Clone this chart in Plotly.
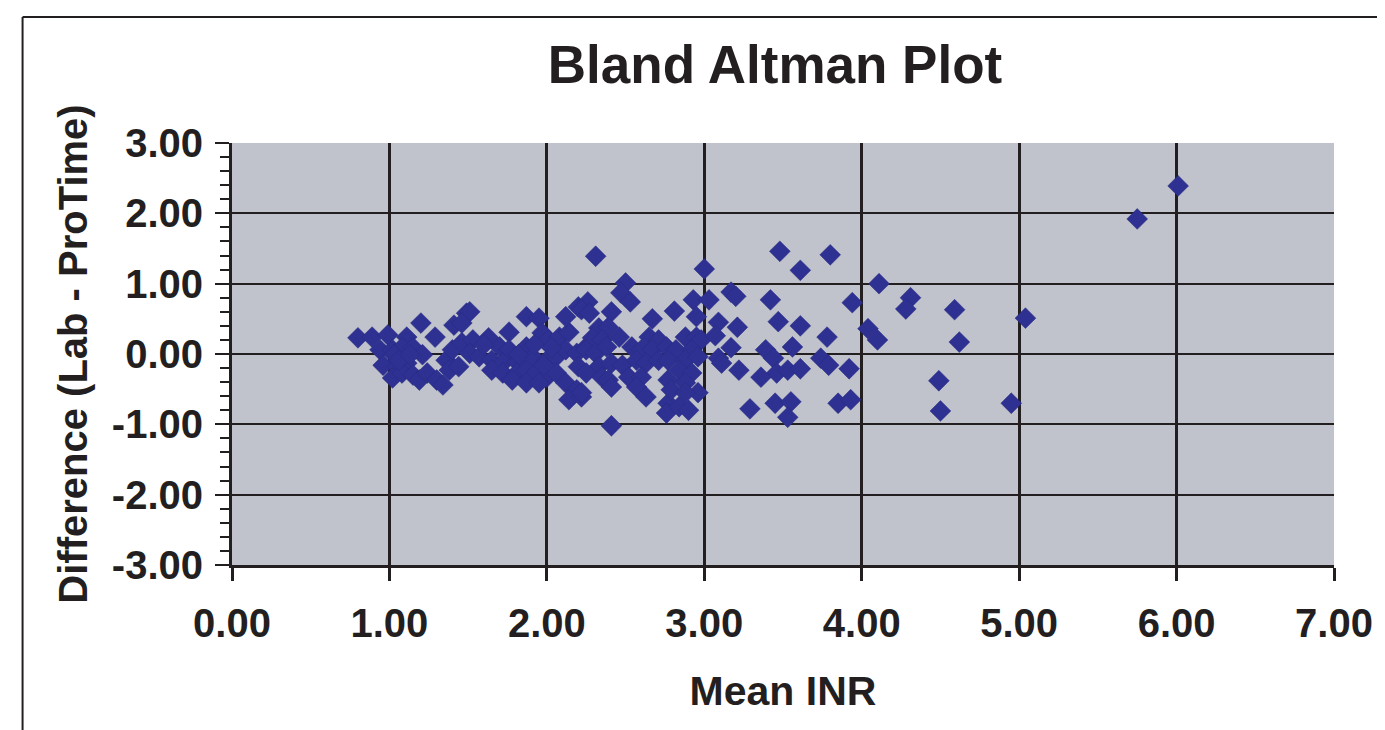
import plotly.graph_objects as go

# Mean INR (x) and Difference Lab - ProTime (y)
mean_inr = [
    0.80, 0.89, 0.99, 1.11, 1.20, 1.29, 1.41, 1.49, 0.94, 1.02, 1.08, 1.15, 1.21,
    0.96, 1.05, 1.11, 1.02, 1.08, 1.15, 1.19, 1.24, 1.30, 1.34, 1.36, 1.40, 1.46,
    1.38, 1.44, 1.03, 1.06, 1.13,
    1.51, 1.46, 1.87, 1.95, 1.97, 1.76, 1.63, 1.53, 1.70, 1.76, 1.87, 2.01, 2.08,
    2.14, 2.12, 2.20, 1.51, 1.57, 1.65, 1.72, 1.81, 1.91, 2.00, 2.06, 2.12, 2.19,
    2.25, 1.65, 1.72, 1.81, 1.87, 1.93, 2.00, 2.06, 1.78, 1.87, 1.95, 2.12, 2.19,
    2.14, 2.22, 1.60, 1.82, 1.92, 2.03, 1.98,
    2.31, 2.50, 2.47, 2.53, 2.26, 2.22, 2.41, 2.67, 2.81, 2.93, 2.95, 2.33, 2.39,
    2.29, 2.35, 2.46, 2.65, 2.71, 2.88, 2.95, 2.98, 2.25, 2.31, 2.38, 2.54, 2.60,
    2.67, 2.76, 2.82, 2.92, 2.33, 2.41, 2.48, 2.57, 2.63, 2.71, 2.77, 2.88, 2.96,
    2.20, 2.25, 2.35, 2.39, 2.52, 2.60, 2.84, 2.92, 2.77, 2.88, 2.41, 2.57, 2.63,
    2.22, 2.77, 2.76, 2.84, 2.90, 2.96, 2.79, 2.88, 2.41, 2.27,
    3.00, 3.17, 3.20, 3.42, 3.03, 3.09, 3.21, 3.47, 3.61, 3.07, 3.56, 3.17, 3.09,
    3.11, 3.22, 3.39, 3.44, 3.46, 3.36, 3.53, 3.61, 3.29, 3.45, 3.55, 3.53,
    3.80, 3.61, 3.48, 4.11, 4.31, 4.28, 3.94, 3.78, 4.04, 4.10, 3.74, 3.79, 3.92,
    3.85, 3.93, 4.49, 4.50, 4.59, 4.62, 5.04, 4.95, 5.75, 6.01,
]
difference = [
    0.23, 0.24, 0.27, 0.24, 0.44, 0.24, 0.41, 0.58, 0.06, 0.06, 0.09, 0.09, -0.01,
    -0.16, -0.18, -0.13, -0.34, -0.27, -0.30, -0.37, -0.27, -0.37, -0.44, -0.09, 0.06, 0.16,
    -0.23, -0.18, -0.01, -0.09, -0.01,
    0.60, 0.44, 0.53, 0.51, 0.30, 0.31, 0.23, 0.20, 0.10, 0.06, 0.10, 0.20, 0.24,
    0.31, 0.53, 0.67, 0.01, -0.04, -0.09, -0.13, -0.11, -0.04, -0.09, -0.04, 0.06, 0.01,
    0.10, -0.23, -0.27, -0.27, -0.23, -0.27, -0.33, -0.27, -0.37, -0.41, -0.41, -0.41, -0.51,
    -0.65, -0.61, 0.13, -0.01, 0.13, 0.09, -0.16,
    1.39, 1.01, 0.87, 0.74, 0.74, 0.63, 0.60, 0.50, 0.61, 0.77, 0.53, 0.37, 0.38,
    0.23, 0.20, 0.24, 0.24, 0.20, 0.24, 0.24, 0.20, 0.06, 0.01, 0.10, 0.10, 0.06,
    0.06, 0.10, 0.06, 0.06, -0.18, -0.13, -0.16, -0.09, -0.13, -0.09, -0.09, -0.09, -0.04,
    -0.18, -0.27, -0.33, -0.37, -0.33, -0.33, -0.23, -0.27, -0.37, -0.41, -0.47, -0.47, -0.61,
    -0.55, -0.70, -0.84, -0.75, -0.80, -0.55, -0.51, -0.55, -1.02, 0.58,
    1.21, 0.88, 0.82, 0.77, 0.77, 0.45, 0.38, 0.46, 0.40, 0.26, 0.10, 0.09, -0.06,
    -0.13, -0.23, 0.06, -0.06, -0.27, -0.33, -0.23, -0.21, -0.78, -0.70, -0.68, -0.90,
    1.41, 1.19, 1.46, 1.00, 0.80, 0.64, 0.73, 0.24, 0.36, 0.20, -0.06, -0.16, -0.21,
    -0.70, -0.65, -0.38, -0.81, 0.63, 0.17, 0.51, -0.70, 1.92, 2.39,
]

x_ticks = [0, 1, 2, 3, 4, 5, 6, 7]
x_tick_labels = ["0.00", "1.00", "2.00", "3.00", "4.00", "5.00", "6.00", "7.00"]
y_ticks = [-3, -2, -1, 0, 1, 2, 3]
y_tick_labels = ["-3.00", "-2.00", "-1.00", "0.00", "1.00", "2.00", "3.00"]

INK = "#231F20"
FONT = "Liberation Sans, Arial, sans-serif"

# the page body adds an 8px offset; figure sized so plot area lands where the reference has it
W, H = 1377, 722
ML, MT, PW, PH = 224, 135, 1105, 422

fig = go.Figure()
fig.add_trace(go.Scatter(
    x=mean_inr, y=difference, mode="markers",
    marker=dict(symbol="diamond", size=16, color="#2E3192",
                line=dict(width=0.5, color="#262A80")),
    showlegend=False, hoverinfo="x+y",
))

fig.update_layout(
    width=W, height=H,
    margin=dict(l=ML, r=W - ML - PW, t=MT, b=H - MT - PH),
    paper_bgcolor="white",
    plot_bgcolor="#C0C3CB",
    font=dict(family=FONT, color=INK),
    title=dict(text="<b>Bland Altman Plot</b>", x=(775 - 8) / W, xanchor="center",
               y=1 - (64 - 8) / H, yanchor="middle",
               font=dict(size=53, family=FONT, color=INK)),
    xaxis=dict(
        range=[0, 7], tickmode="array", tickvals=x_ticks, ticktext=x_tick_labels,
        showgrid=True, gridcolor=INK, gridwidth=3,
        showline=True, linecolor=INK, linewidth=3,
        ticks="outside", ticklen=13, tickwidth=3, tickcolor=INK,
        tickfont=dict(size=40, family=FONT, color=INK, weight="bold"),
        ticklabelstandoff=8,
        zeroline=False,
        title=dict(text="<b>Mean INR</b>", font=dict(size=41, family=FONT, color=INK),
                   standoff=33),
        fixedrange=True,
    ),
    yaxis=dict(
        range=[-3, 3], tickmode="array", tickvals=y_ticks, ticktext=y_tick_labels,
        showgrid=True, gridcolor=INK, gridwidth=2,
        showline=True, linecolor=INK, linewidth=3,
        ticks="outside", ticklen=14, tickwidth=2, tickcolor=INK,
        minor=dict(ticks="outside", dtick=0.2, ticklen=9, tickwidth=2, tickcolor=INK,
                   showgrid=False),
        tickfont=dict(size=40, family=FONT, color=INK, weight="bold"),
        ticklabelstandoff=4,
        zeroline=False,
        title=dict(text="<b>Difference (Lab - ProTime)</b>",
                   font=dict(size=40, family=FONT, color=INK), standoff=12),
        fixedrange=True,
    ),
)

# outer chart frame (top and left edges visible in the reference)
FX = (22 - 8 - ML) / PW
FY = 1 + (MT - (17 - 8)) / PH
fig.add_shape(type="line", xref="paper", yref="paper",
              x0=FX, x1=(1400 - ML) / PW, y0=FY, y1=FY,
              line=dict(color=INK, width=2))
fig.add_shape(type="line", xref="paper", yref="paper",
              x0=FX, x1=FX, y0=FY, y1=-(H + 20 - MT - PH) / PH,
              line=dict(color=INK, width=2))

fig.write_html("out.html")
